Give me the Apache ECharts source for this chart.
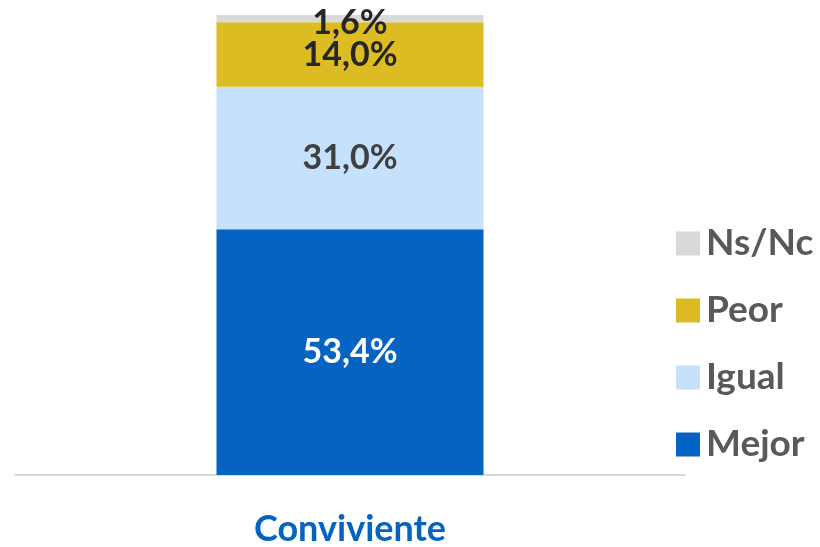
<!DOCTYPE html>
<html>
<head>
<meta charset="utf-8">
<script src="https://cdn.jsdelivr.net/npm/echarts@6/dist/echarts.min.js"></script>
<style>
  html, body { margin: 0; padding: 0; background: #fff; }
  #chart { width: 820px; height: 547px; }
</style>
</head>
<body>
<div id="chart"></div>
<script>
// Single stacked bar: opinion distribution for one group
const categories = ['Conviviente'];
const seriesNames = ['Mejor', 'Igual', 'Peor', 'Ns/Nc'];
const mejor = [53.4];
const igual = [31.0];
const peor = [14.0];
const nsnc = [1.6];
const legendOrder = ['Ns/Nc', 'Peor', 'Igual', 'Mejor'];

const colors = {
  'Mejor': '#0563C1',
  'Igual': '#C5E1FB',
  'Peor': '#DDBB22',
  'Ns/Nc': '#D9D9D9'
};
const labelColors = {
  'Mejor': '#FFFFFF',
  'Igual': '#404040',
  'Peor': '#262626',
  'Ns/Nc': '#262626'
};
const values = { 'Mejor': mejor, 'Igual': igual, 'Peor': peor, 'Ns/Nc': nsnc };

const fontFamily = 'Lato, "Open Sans", sans-serif';

const chart = echarts.init(document.getElementById('chart'));
chart.setOption({
  animation: false,
  grid: { left: 15, right: 135, top: 15, bottom: 71 },
  legend: {
    orient: 'vertical',
    left: 671,
    top: 220,
    itemWidth: 24,
    itemHeight: 24,
    itemGap: 30,
    icon: 'rect',
    data: legendOrder,
    textStyle: {
      fontFamily: fontFamily,
      fontSize: 37,
      fontWeight: 'bold',
      color: '#595959',
      lineHeight: 36,
      padding: [0, 0, 0, 1]
    }
  },
  xAxis: {
    type: 'category',
    data: categories,
    axisLine: { lineStyle: { color: '#D9D9D9', width: 2 } },
    axisTick: { show: false },
    axisLabel: {
      margin: 36,
      fontFamily: fontFamily,
      fontSize: 36,
      fontWeight: 'bold',
      color: '#0563C1'
    }
  },
  yAxis: {
    type: 'value',
    min: 0,
    max: 100,
    show: false,
    splitLine: { show: false }
  },
  series: seriesNames.map(name => ({
    name: name,
    type: 'bar',
    stack: 'total',
    barWidth: 267,
    data: values[name],
    itemStyle: { color: colors[name] },
    label: {
      show: true,
      position: 'inside',
      offset: name === 'Ns/Nc' ? [0, 4] : [0, 0],
      formatter: p => p.value.toFixed(1).replace('.', ',') + '%',
      fontFamily: fontFamily,
      fontSize: 34,
      fontWeight: 'bold',
      color: labelColors[name]
    }
  }))
});
</script>
</body>
</html>
